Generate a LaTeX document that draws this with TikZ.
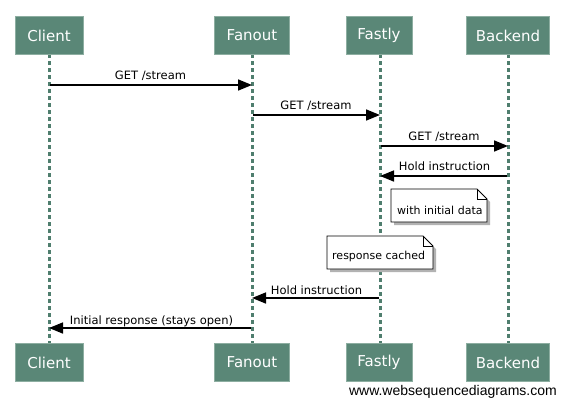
\documentclass[tikz,border=0pt]{standalone}
\usepackage{fontspec}
\setmainfont{DejaVu Sans}
\newfontfamily\footfont{Liberation Sans}
\usetikzlibrary{arrows.meta,shapes.misc}
\definecolor{actorfill}{HTML}{5A8777}
\definecolor{actorline}{HTML}{8DAEA1}
\definecolor{lifecol}{HTML}{4F7E6E}
\tikzset{
  actor/.style={draw=actorline, line width=0.8pt, fill=actorfill, text=white,
    minimum height=38pt, inner sep=0pt, font=\fontsize{15}{15}\selectfont},
  lifeline/.style={draw=lifecol, line width=3pt, dash pattern=on 4pt off 3pt},
  msg/.style={draw=black, line width=1.6pt, -{Triangle[length=14pt,width=11pt]}},
  msglabel/.style={font=\fontsize{11.5}{12}\selectfont, inner sep=0pt, anchor=base},
  notetext/.style={font=\fontsize{11}{12}\selectfont, inner sep=0pt, anchor=west},
}
\newcommand{\notebox}[5]{% x1 y1 x2 y2 name
  \fill[gray!60] (#1+3,-#2-3) -- (#3-10+3,-#2-3) -- (#3+3,-#2-10-3) -- (#3+3,-#4-3) -- (#1+3,-#4-3) -- cycle;
  \filldraw[fill=white, draw=black, line width=0.8pt] (#1,-#2) -- (#3-10,-#2) -- (#3,-#2-10) -- (#3,-#4) -- (#1,-#4) -- cycle;
  \draw[line width=0.8pt] (#3-10,-#2) -- (#3-10,-#2-10) -- (#3,-#2-10);
}
\begin{document}
\begin{tikzpicture}[x=1pt,y=1pt]
\useasboundingbox (0,0) rectangle (565,-405);
% lifelines first
\coordinate (cT) at (49,-54);  \coordinate (cB) at (49,-343);
\coordinate (fT) at (252,-54); \coordinate (fB) at (252,-343);
\coordinate (sT) at (380,-54); \coordinate (sB) at (380,-343);
\coordinate (bT) at (508,-54); \coordinate (bB) at (508,-343);
\draw[lifeline] (cT) -- (cB);
\draw[lifeline] (fT) -- (fB);
\draw[lifeline] (sT) -- (sB);
\draw[lifeline] (bT) -- (bB);
% actors top
\node[actor, minimum width=68pt] (client) at (49,-35.5) {Client};
\node[actor, minimum width=75pt] (fanout) at (252,-35.5) {Fanout};
\node[actor, minimum width=66pt] (fastly) at (379,-35.5) {Fastly};
\node[actor, minimum width=83pt] (backend) at (508,-35.5) {Backend};
% actors bottom
\node[actor, minimum width=68pt] (client2) at (49,-362.5) {Client};
\node[actor, minimum width=75pt] (fanout2) at (252,-362.5) {Fanout};
\node[actor, minimum width=66pt] (fastly2) at (379,-362.5) {Fastly};
\node[actor, minimum width=83pt] (backend2) at (508,-362.5) {Backend};
% messages
\coordinate (m1a) at (50,-85);  \coordinate (m1b) at (252,-85);
\draw[msg] (m1a) -- (m1b);
\node[msglabel] (l1) at (150.5,-79) {GET /stream};
\coordinate (m2a) at (253,-115); \coordinate (m2b) at (380,-115);
\draw[msg] (m2a) -- (m2b);
\node[msglabel] (l2) at (316,-109) {GET /stream};
\coordinate (m3a) at (381,-146); \coordinate (m3b) at (508,-146);
\draw[msg] (m3a) -- (m3b);
\node[msglabel] (l3) at (444,-140) {GET /stream};
\coordinate (m4a) at (507,-176); \coordinate (m4b) at (380,-176);
\draw[msg] (m4a) -- (m4b);
\node[msglabel] (l4) at (444.5,-170) {Hold instruction};
% notes
\notebox{391}{189}{487}{222}{n1}
\node[notetext] (n1) at (397,-210) {with initial data};
\notebox{327}{236}{433}{269}{n2}
\node[notetext] (n2) at (332,-256) {response cached};
\coordinate (m5a) at (379,-298); \coordinate (m5b) at (252,-298);
\draw[msg] (m5a) -- (m5b);
\node[msglabel] (l5) at (316.5,-294) {Hold instruction};
\coordinate (m6a) at (251,-328); \coordinate (m6b) at (49,-328);
\draw[msg] (m6a) -- (m6b);
\node[msglabel] (l6) at (151.5,-324) {Initial response (stays open)};
\node[font=\footfont\fontsize{14}{14}\selectfont, inner sep=0pt, anchor=base east] (foot) at (557,-395) {www.websequencediagrams.com};
\end{tikzpicture}
\end{document}
